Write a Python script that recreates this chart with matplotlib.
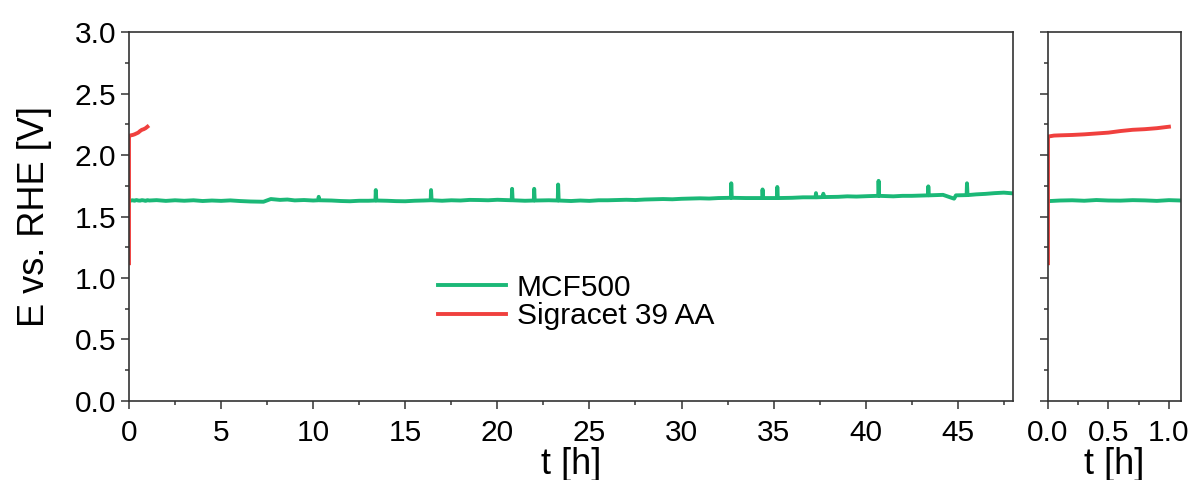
import numpy as np
import matplotlib.pyplot as plt
from matplotlib.ticker import MultipleLocator

plt.rcParams['font.family'] = ['Liberation Sans', 'DejaVu Sans']

# MCF500 potential vs time, spikes written as base/peak/base
green_t = [0.0, 0.1, 0.2, 0.3, 0.4, 0.5, 0.6, 0.7, 0.8, 0.9, 1.0, 1.1,
           1.5, 2.0, 2.5, 3.0, 3.5, 4.0, 4.5, 5.0, 5.5, 6.0, 6.6, 7.3, 7.7, 8.2, 8.6, 9.0, 9.5, 10.0,
           10.28, 10.3, 10.33, 11.0, 11.5, 12.0, 12.5, 13.0,
           13.38, 13.4, 13.43, 14.0, 14.5, 15.0, 15.5, 16.0,
           16.38, 16.4, 16.43, 17.0, 17.5, 18.0, 18.5, 19.0, 19.5, 20.0,
           20.78, 20.8, 20.83, 21.5,
           21.98, 22.0, 22.03, 22.8,
           23.28, 23.3, 23.33, 24.0, 24.5, 25.0, 25.5, 26.0, 26.5, 27.0, 27.5, 28.0,
           28.5, 29.0, 29.5, 30.0, 30.5, 31.0, 31.5, 32.0,
           32.68, 32.7, 32.73, 33.5,
           34.38, 34.4, 34.43,
           35.18, 35.2, 35.23, 36.0, 36.6,
           37.28, 37.3, 37.33, 37.68, 37.7, 37.73, 38.5, 39.0, 39.5, 40.2,
           40.68, 40.7, 40.73, 41.5, 42.0, 42.5,
           43.38, 43.4, 43.43, 44.2, 44.8, 44.9,
           45.48, 45.5, 45.53, 46.0, 46.5, 47.0, 47.5, 48.0]
green_E = [1.625, 1.630, 1.632, 1.628, 1.634, 1.630, 1.629, 1.633, 1.631, 1.627, 1.633, 1.630,
           1.633, 1.627, 1.632, 1.628, 1.632, 1.626, 1.630, 1.627, 1.631, 1.626, 1.622, 1.620, 1.642, 1.635, 1.638, 1.631, 1.634, 1.630,
           1.632, 1.660, 1.632, 1.630, 1.626, 1.624, 1.628, 1.628,
           1.630, 1.715, 1.630, 1.628, 1.625, 1.624, 1.628, 1.630,
           1.632, 1.715, 1.632, 1.628, 1.632, 1.630, 1.635, 1.634, 1.632, 1.636,
           1.632, 1.725, 1.632, 1.628,
           1.630, 1.725, 1.630, 1.632,
           1.630, 1.760, 1.630, 1.626, 1.630, 1.627, 1.632, 1.632, 1.634, 1.636, 1.634, 1.638,
           1.640, 1.642, 1.640, 1.644, 1.646, 1.648, 1.646, 1.650,
           1.652, 1.770, 1.652, 1.650,
           1.650, 1.720, 1.650,
           1.650, 1.740, 1.650, 1.652, 1.656,
           1.656, 1.690, 1.656, 1.658, 1.685, 1.658, 1.660, 1.664, 1.662, 1.666,
           1.668, 1.790, 1.668, 1.664, 1.668, 1.668,
           1.672, 1.745, 1.672, 1.676, 1.645, 1.672,
           1.674, 1.770, 1.674, 1.680, 1.684, 1.690, 1.694, 1.688]

# Sigracet 39 AA potential vs time
red_t = [0.0, 0.0, 0.05, 0.1, 0.2, 0.3, 0.4, 0.5, 0.6, 0.7, 0.8, 0.9, 1.0]
red_E = [1.12, 2.15, 2.158, 2.160, 2.163, 2.168, 2.175, 2.182, 2.195, 2.205, 2.210, 2.218, 2.230]

green = '#1bb877'
red = '#f0403e'
spine_col = '#333333'

fig = plt.figure(figsize=(11.89, 4.80), dpi=100)
ax1 = fig.add_axes([0.1085, 0.1646, 0.7435, 0.7687])
ax2 = fig.add_axes([0.8814, 0.1646, 0.1119, 0.7687])

for ax in (ax1, ax2):
    ax.plot(green_t, green_E, color=green, lw=2.8, label='MCF500')
    ax.plot(red_t, red_E, color=red, lw=2.8, label='Sigracet 39 AA')
    ax.set_ylim(0, 3.0)
    ax.yaxis.set_major_locator(MultipleLocator(0.5))
    ax.yaxis.set_minor_locator(MultipleLocator(0.25))
    ax.tick_params(which='both', direction='out', labelsize=21.5, width=1.1,
                   color=spine_col, top=False, right=False)
    ax.tick_params(which='major', length=5.8)
    ax.tick_params(which='minor', length=3)
    ax.tick_params(axis='x', pad=7)
    for s in ax.spines.values():
        s.set_linewidth(1.2)
        s.set_color(spine_col)

ax1.set_xlim(0, 48)
ax1.xaxis.set_major_locator(MultipleLocator(5))
ax1.xaxis.set_minor_locator(MultipleLocator(2.5))
ax1.set_ylabel('E vs. RHE [V]', fontsize=26, labelpad=16)
ax1.set_xlabel('t [h]', fontsize=26, labelpad=0)
ax1.yaxis.set_major_formatter(plt.FormatStrFormatter('%.1f'))

ax2.set_xlim(0, 1.1)
ax2.xaxis.set_major_locator(MultipleLocator(0.5))
ax2.xaxis.set_minor_locator(MultipleLocator(0.25))
ax2.xaxis.set_major_formatter(plt.FormatStrFormatter('%.1f'))
ax2.set_yticklabels([])
ax2.set_xlabel('t [h]', fontsize=26, labelpad=0)

ax1.legend(loc='upper left', bbox_to_anchor=(0.349, 0.345), frameon=False,
           fontsize=21.5, handlelength=2.3, handletextpad=0.35, labelspacing=0.02,
           borderpad=0, borderaxespad=0)

plt.savefig('out.png', dpi=100)
